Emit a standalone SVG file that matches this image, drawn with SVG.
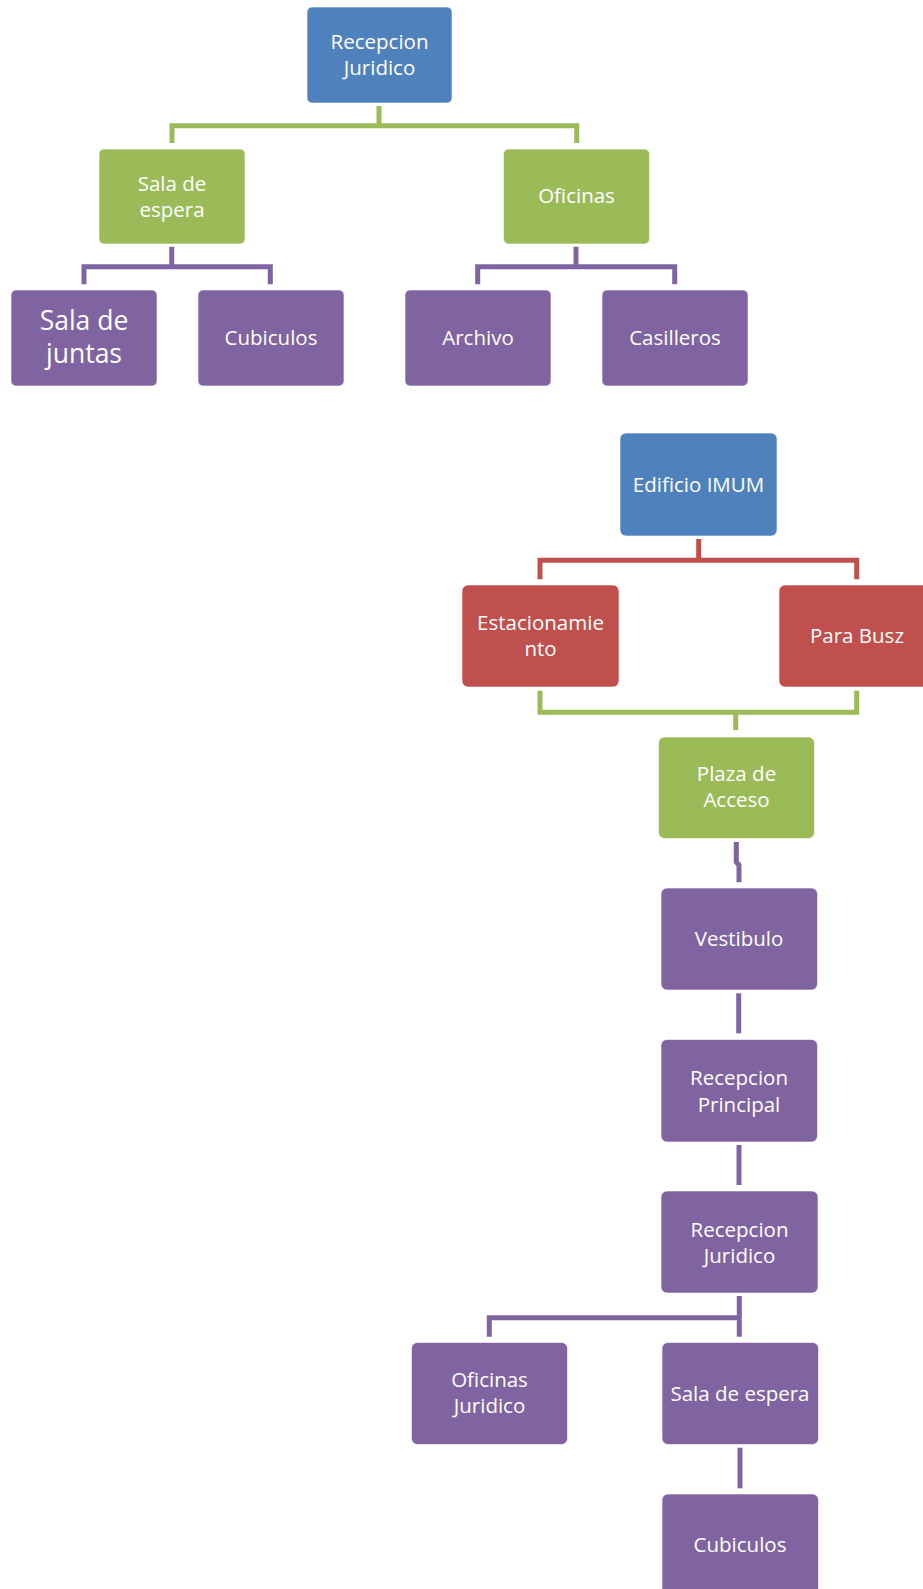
<svg xmlns="http://www.w3.org/2000/svg" width="923" height="1589" viewBox="0 0 923 1589">
<style>
  .box { stroke: #ffffff; stroke-opacity: 0.6; stroke-width: 1; }
  .blue { fill: #4F81BD; }
  .green { fill: #9BBB59; }
  .purple { fill: #8064A2; }
  .red { fill: #C0504D; }
  .lbl { font-family: "Open Sans", "Noto Sans", "Liberation Sans", sans-serif; font-size: 20.5px; fill: #ffffff; text-anchor: middle; }
  .big { font-size: 26.5px; }
  .conn { fill: none; stroke-width: 5; stroke-linecap: butt; stroke-linejoin: miter; }
  .cg { stroke: #9BBB59; }
  .cp { stroke: #8064A2; }
  .cr { stroke: #C0504D; }
</style>
<rect width="923" height="1589" fill="#ffffff"/>
<g id="connectors">
  <path class="conn cg" d="M172,143 V125.7 H576.7 V143 M379,106 V125.7"/>
  <path class="conn cp" d="M84,284.3 V266.7 H270.3 V284.3 M171.7,246.7 V266.7"/>
  <path class="conn cp" d="M477.7,284.3 V266.7 H674.7 V284.3 M576,246.7 V266.7"/>
  <path class="conn cr" d="M540,579.3 V560.3 H856.7 V579.3 M698.7,539 V560.3"/>
  <path class="conn cg" d="M540,690.7 V712.3 H856.7 V690.7 M735.7,712.3 V730"/>
  <path class="conn cp" d="M736.3,842 V862 L739,865 V882.3"/>
  <path class="conn cp" d="M738.7,993.3 V1033.3"/>
  <path class="conn cp" d="M739,1145 V1185"/>
  <path class="conn cp" d="M739.3,1296 V1336.7 M739.3,1317.7 H489.3 V1336.7"/>
  <path class="conn cp" d="M740,1447.7 V1488.3"/>
</g>
<g id="n_recepcion_juridico_top">
  <rect class="box blue" x="307" y="7" width="145" height="96" rx="5"/>
  <text class="lbl" x="379.5" y="49.3">Recepcion</text>
  <text class="lbl" x="379.5" y="75">Juridico</text>
</g>
<g id="n_sala_espera_top">
  <rect class="box green" x="99" y="149" width="146" height="95" rx="5"/>
  <text class="lbl" x="172" y="190.7">Sala de</text>
  <text class="lbl" x="172" y="216.7">espera</text>
</g>
<g id="n_oficinas_top">
  <rect class="box green" x="503.5" y="149" width="146" height="95" rx="5"/>
  <text class="lbl" x="576.5" y="202.7">Oficinas</text>
</g>
<g id="n_sala_juntas">
  <rect class="box purple" x="11" y="290" width="146" height="96" rx="5"/>
  <text class="lbl big" x="84" y="330">Sala de</text>
  <text class="lbl big" x="84" y="363">juntas</text>
</g>
<g id="n_cubiculos_top">
  <rect class="box purple" x="198" y="290" width="146" height="96" rx="5"/>
  <text class="lbl" x="271" y="345">Cubiculos</text>
</g>
<g id="n_archivo">
  <rect class="box purple" x="405" y="290" width="146" height="96" rx="5"/>
  <text class="lbl" x="478" y="345">Archivo</text>
</g>
<g id="n_casilleros">
  <rect class="box purple" x="602" y="290" width="146" height="96" rx="5"/>
  <text class="lbl" x="675" y="345">Casilleros</text>
</g>
<g id="n_edificio">
  <rect class="box blue" x="620" y="433" width="157" height="103" rx="6"/>
  <text class="lbl" x="698.5" y="491.7">Edificio IMUM</text>
</g>
<g id="n_estacionamiento">
  <rect class="box red" x="462" y="585" width="157" height="102" rx="6"/>
  <text class="lbl" x="540.5" y="630">Estacionamie</text>
  <text class="lbl" x="540.5" y="656">nto</text>
</g>
<g id="n_para_busz">
  <rect class="box red" x="779" y="585" width="157" height="102" rx="6"/>
  <text class="lbl" x="857" y="642.7">Para Busz</text>
</g>
<g id="n_plaza">
  <rect class="box green" x="658.5" y="737" width="156" height="101.5" rx="6"/>
  <text class="lbl" x="736.5" y="780.7">Plaza de</text>
  <text class="lbl" x="736.5" y="807.3">Acceso</text>
</g>
<g id="n_vestibulo">
  <rect class="box purple" x="661" y="888" width="156.5" height="102" rx="6"/>
  <text class="lbl" x="739" y="946">Vestibulo</text>
</g>
<g id="n_recepcion_principal">
  <rect class="box purple" x="661" y="1039.5" width="156.5" height="102.5" rx="6"/>
  <text class="lbl" x="739" y="1085">Recepcion</text>
  <text class="lbl" x="739" y="1111.7">Principal</text>
</g>
<g id="n_recepcion_juridico">
  <rect class="box purple" x="661" y="1191" width="157" height="102" rx="6"/>
  <text class="lbl" x="739.5" y="1236.7">Recepcion</text>
  <text class="lbl" x="739.5" y="1263.3">Juridico</text>
</g>
<g id="n_oficinas_juridico">
  <rect class="box purple" x="411.5" y="1342.5" width="156" height="102" rx="6"/>
  <text class="lbl" x="489.5" y="1386.7">Oficinas</text>
  <text class="lbl" x="489.5" y="1413.3">Juridico</text>
</g>
<g id="n_sala_espera">
  <rect class="box purple" x="662" y="1342.5" width="156.5" height="102" rx="6"/>
  <text class="lbl" x="740" y="1400.7">Sala de espera</text>
</g>
<g id="n_cubiculos">
  <rect class="box purple" x="662" y="1494" width="156.5" height="102" rx="6"/>
  <text class="lbl" x="740" y="1551.7">Cubiculos</text>
</g>
</svg>
